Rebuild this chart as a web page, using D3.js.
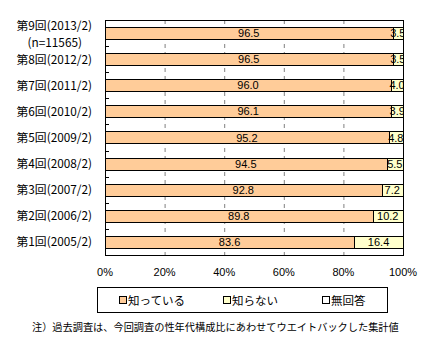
<!DOCTYPE html>
<html><head><meta charset="utf-8">
<script src="https://cdn.jsdelivr.net/npm/d3@7"></script>
<style>body{margin:0;background:#fff}svg{display:block}</style>
</head><body>
<script>
const categories = ["第9回(2013/2)","第8回(2012/2)","第7回(2011/2)","第6回(2010/2)","第5回(2009/2)","第4回(2008/2)","第3回(2007/2)","第2回(2006/2)","第1回(2005/2)"];
const knows = [96.5,96.5,96.0,96.1,95.2,94.5,92.8,89.8,83.6];
const notKnow = [3.5,3.5,4.0,3.9,4.8,5.5,7.2,10.2,16.4];
const noAnswer = [0,0,0,0,0,0,0,0,0];
const seriesNames = ["知っている","知らない","無回答"];
const colors = ["#FFCC99","#FFFFCC","#FFFFFF"];
const xTicks = [0,20,40,60,80,100];
const note = "注）過去調査は、今回調査の性年代構成比にあわせてウエイトバックした集計値";

const W=434,H=353;
const m={l:105,r:403,t:20,b:255};
const jp = "'Noto Sans CJK JP', sans-serif";
const svg=d3.select("body").append("svg").attr("width",W).attr("height",H);

const x=d3.scaleLinear().domain([0,100]).range([m.l,m.r]);
const y=d3.scaleBand().domain(categories).range([m.t,m.b]).paddingInner(0.54).paddingOuter(0.27);

// gridlines
svg.append("g").selectAll("line").data(xTicks.filter(d=>d>0&&d<100)).join("line")
  .attr("x1",d=>x(d)+0.5).attr("x2",d=>x(d)+0.5).attr("y1",m.t).attr("y2",m.b)
  .attr("stroke","#808080").attr("stroke-dasharray","4,4");

const data = categories.map((c,i)=>({cat:c, v:[knows[i],notKnow[i],noAnswer[i]]}));
svg.append("defs").append("clipPath").attr("id","clip").append("rect")
  .attr("x",m.l).attr("y",m.t).attr("width",m.r-m.l).attr("height",m.b-m.t);

const gb=svg.append("g");
data.forEach(d=>{
  let acc=0;
  d.v.forEach((v,k)=>{
    if(v>0){
      const x0=x(acc), x1=x(acc+v);
      gb.append("rect").attr("x",Math.round(x0)+0.5).attr("y",Math.round(y(d.cat))+0.5)
        .attr("width",Math.round(x1)-Math.round(x0)).attr("height",Math.round(y.bandwidth()))
        .attr("fill",colors[k]).attr("stroke","#000");
    }
    acc+=v;
  });
});
const gt=svg.append("g").attr("clip-path","url(#clip)");
data.forEach(d=>{
  let acc=0;
  d.v.forEach((v,k)=>{
    if(v>0){
      gt.append("text").attr("x",x(acc+v/2)).attr("y",y(d.cat)+y.bandwidth()/2+4)
        .attr("text-anchor","middle").attr("font-family","'Liberation Sans',Arial,sans-serif")
        .attr("font-size","11px").text(v.toFixed(1));
    }
    acc+=v;
  });
});

// frame
svg.append("rect").attr("x",m.l+0.5).attr("y",m.t+0.5).attr("width",m.r-m.l).attr("height",m.b-m.t)
  .attr("fill","none").attr("stroke","#000");
// left ticks at band boundaries
const step=y.step();
svg.append("g").selectAll("line").data(d3.range(1,categories.length)).join("line")
  .attr("x1",m.l).attr("x2",m.l+4).attr("y1",d=>Math.round(m.t+d*step)+0.5).attr("y2",d=>Math.round(m.t+d*step)+0.5)
  .attr("stroke","#000");

// x tick labels
svg.append("g").selectAll("text").data(xTicks).join("text")
  .attr("x",d=>x(d)).attr("y",276).attr("text-anchor","middle")
  .attr("font-family","'Liberation Sans',Arial,sans-serif").attr("font-size","11px").text(d=>d+"%");

// category labels
svg.append("g").selectAll("text").data(categories).join("text")
  .attr("x",92).attr("y",(d,i)=>i===0? y(d)+y.bandwidth()/2-3 : y(d)+y.bandwidth()/2+4.5)
  .attr("text-anchor","end").attr("font-family",jp).attr("font-size","11.8px").text(d=>d);
svg.append("text").attr("x",82).attr("y",y(categories[0])+y.bandwidth()/2+14).attr("text-anchor","end")
  .attr("font-family",jp).attr("font-size","11.8px").text("(n=11565)");

// legend
svg.append("rect").attr("x",97.5).attr("y",287.5).attr("width",290).attr("height",25).attr("fill","#fff").attr("stroke","#000");
const lx=[119,223,322];
seriesNames.forEach((s,i)=>{
  svg.append("rect").attr("x",lx[i]+0.5).attr("y",296.5).attr("width",7).attr("height",7).attr("fill",colors[i]).attr("stroke","#000");
  svg.append("text").attr("x",lx[i]+9).attr("y",304.5).attr("font-family",jp).attr("font-size","11.5px").text(s);
});
svg.append("text").attr("x",32).attr("y",331).attr("font-family",jp).attr("font-size","10.2px").text(note);
</script>
</body></html>
